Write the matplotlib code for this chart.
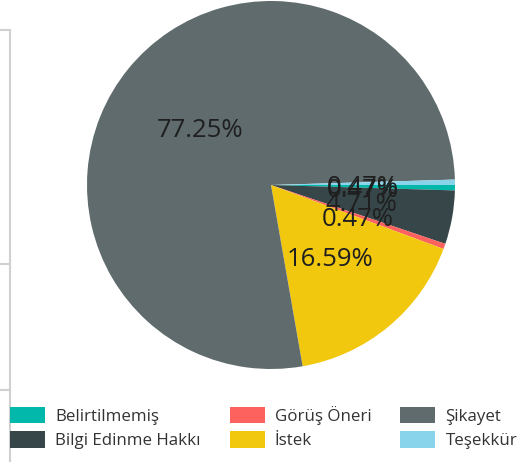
import matplotlib.pyplot as plt
from matplotlib.patches import Patch
from matplotlib.lines import Line2D

plt.rcParams['font.family'] = ['Open Sans', 'DejaVu Sans']

# data (percent shares)
categories = ['Belirtilmemiş', 'Bilgi Edinme Hakkı', 'Görüş Öneri', 'İstek', 'Şikayet', 'Teşekkür']
shares = [0.47, 4.71, 0.47, 16.59, 77.25, 0.47]
colors = ['#01B8AA', '#374649', '#FD625E', '#F2C80F', '#5F6B6D', '#8AD4EB']

fig = plt.figure(figsize=(5.23, 4.62), dpi=100)

# pie axes: centre ~ (271,185) px, radius ~184 px
ax = fig.add_axes([87 / 523, 1 - 369 / 462, 368 / 523, 368 / 462])
lbl = iter(shares)
wedges, texts, autotexts = ax.pie(
    shares, colors=colors, startangle=0, counterclock=False,
    autopct=lambda p: '%.2f%%' % next(lbl), pctdistance=0.5, radius=1.0,
    wedgeprops=dict(linewidth=0),
    textprops=dict(fontsize=18.5, color='#1f1f1f'))
# labels sit a touch lower in the reference
for t in autotexts:
    x, y = t.get_position()
    t.set_position((x, y - 0.02))
ax.set_xlim(-1, 1)
ax.set_ylim(-1, 1)
ax.set_aspect('equal')
ax.axis('off')

# left page frame lines
lc = '#d0d0d0'
fig.add_artist(Line2D([10 / 523, 10 / 523], [0, 1 - 30 / 462], color=lc, lw=1.5, transform=fig.transFigure))
for yy in [30, 264, 390]:
    fig.add_artist(Line2D([0, 10 / 523], [1 - yy / 462] * 2, color=lc, lw=1.5, transform=fig.transFigure))

handles = [Patch(facecolor=c, edgecolor='none') for c in colors]
fig.legend(handles, categories, ncol=3, loc='upper left',
           bbox_to_anchor=(10 / 523, 1 - 406 / 462), frameon=False,
           fontsize=12.2, handlelength=2.07, handleheight=1.12,
           handletextpad=0.6, columnspacing=1.7, labelspacing=0.38,
           borderpad=0, borderaxespad=0, labelcolor='#333333')

fig.savefig('out.png', dpi=100)
